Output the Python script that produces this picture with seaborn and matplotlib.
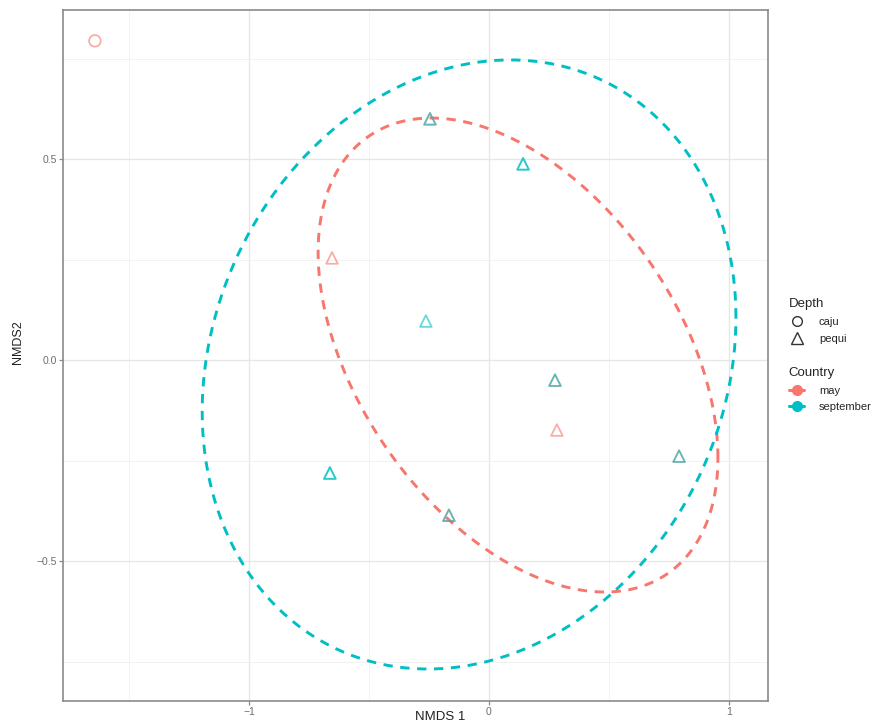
import numpy as np
import pandas as pd
import matplotlib
matplotlib.use("Agg")
import matplotlib.pyplot as plt
from matplotlib.lines import Line2D
import seaborn as sns

sns.set_theme(style="white")
plt.rcParams["font.family"] = ["Liberation Sans", "DejaVu Sans"]

# NMDS site scores
nmds1 = [-1.642, -0.246, -0.246, 0.142, 0.142, -0.263, -0.663, -0.663,
         -0.654, 0.283, 0.275, 0.275, 0.792, 0.792, -0.167, -0.167]
nmds2 = [0.794, 0.600, 0.600, 0.488, 0.488, 0.097, -0.281, -0.281,
         0.254, -0.174, -0.050, -0.050, -0.239, -0.239, -0.386, -0.386]
depth = ["caju"] + ["pequi"] * 15
country = ["may", "may", "september", "september", "september", "september",
           "september", "september", "may", "may", "may", "september",
           "may", "september", "may", "september"]

# 95% ellipse per month: centre and covariance (sxx, syy, sxy)
ell_country = ["may", "september"]
ell_cx = [0.121, -0.083]
ell_cy = [0.0125, -0.011]
ell_sx = [0.833, 1.112]
ell_sy = [0.5895, 0.7575]
ell_sxy = [-0.213, 0.130]

palette = {"may": "#F8766D", "september": "#00BFC4"}

pts = pd.DataFrame({"NMDS1": nmds1, "NMDS2": nmds2,
                    "Depth": depth, "Country": country})

rows = []
t = np.linspace(0, 2 * np.pi, 361)
for c, cx, cy, sx, sy, sxy in zip(ell_country, ell_cx, ell_cy, ell_sx, ell_sy, ell_sxy):
    cov = np.array([[sx ** 2, sxy], [sxy, sy ** 2]])
    L = np.linalg.cholesky(cov)
    xy = L @ np.vstack([np.cos(t), np.sin(t)])
    for k in range(len(t)):
        rows.append({"NMDS1": cx + xy[0, k], "NMDS2": cy + xy[1, k],
                     "Country": c, "order": k})
ell = pd.DataFrame(rows)

fig = plt.figure(figsize=(8.86, 7.27), dpi=100)
ax = fig.add_axes([0.0711, 0.0358, 0.7957, 0.9504])

sns.lineplot(data=ell, x="NMDS1", y="NMDS2", hue="Country", palette=palette,
             sort=False, estimator=None, units="Country", ax=ax,
             linewidth=2.1, linestyle=(0, (3.2, 2.6)), legend=False, zorder=3)

sns.scatterplot(data=pts, x="NMDS1", y="NMDS2", hue="Country", style="Depth",
                palette=palette, markers={"caju": "o", "pequi": "^"},
                s=70, alpha=0.6, ax=ax, legend=False, zorder=4)
for coll in ax.collections:
    fc = coll.get_facecolors()
    coll.set_edgecolors(fc)
    coll.set_facecolors("none")
    coll.set_linewidth(1.3)

ax.set_xlim(-1.775, 1.1625)
ax.set_ylim(-0.848, 0.8706)
ax.set_xticks([-1, 0, 1])
ax.set_xticklabels(["\u22121", "0", "1"])
ax.set_yticks([-0.5, 0.0, 0.5])
ax.set_yticklabels(["\u22120.5", "0.0", "0.5"])
ax.set_xticks([-1.5, -0.5, 0.5], minor=True)
ax.set_yticks([-0.75, -0.25, 0.25, 0.75], minor=True)
ax.grid(which="major", color="#e6e6e6", linewidth=0.9)
ax.grid(which="minor", color="#f0f0f0", linewidth=0.6)
ax.set_axisbelow(True)
for sp in ax.spines.values():
    sp.set_color("#8a8a8a")
    sp.set_linewidth(1.2)
ax.tick_params(axis="both", which="major", length=3, width=0.9,
               color="#8a8a8a", labelcolor="#6e6e6e", labelsize=7.5, pad=1.5,
               bottom=True, left=True)
ax.tick_params(which="minor", length=0)
ax.set_xlabel("NMDS 1", fontsize=9.5, color="#222222")
ax.set_ylabel("NMDS2", fontsize=9, color="#222222")
ax.xaxis.set_label_coords(0.535, -0.015, transform=ax.transAxes)
ax.xaxis.label.set_verticalalignment("top")
ax.yaxis.set_label_coords(-0.055, 0.52, transform=ax.transAxes)

depth_handles = [
    Line2D([], [], linestyle="none", marker="o", markersize=7,
           markerfacecolor="none", markeredgecolor="#333333", markeredgewidth=1.0),
    Line2D([], [], linestyle="none", marker="^", markersize=8,
           markerfacecolor="none", markeredgecolor="#333333", markeredgewidth=1.0),
]
leg1 = fig.legend(depth_handles, ["caju", "pequi"], title="Depth",
                  loc="upper left", bbox_to_anchor=(0.879, 0.604),
                  frameon=False, fontsize=8, title_fontsize=9.5,
                  handlelength=1.4, handletextpad=1.3, labelspacing=0.65,
                  alignment="left")
country_handles = [
    Line2D([], [], color=palette[c], linewidth=2.2, marker="o",
           markersize=7, markerfacecolor=palette[c], markeredgecolor=palette[c])
    for c in ["may", "september"]
]
leg2 = fig.legend(country_handles, ["may", "september"], title="Country",
                  loc="upper left", bbox_to_anchor=(0.879, 0.509),
                  frameon=False, fontsize=8, title_fontsize=9.5,
                  handlelength=1.4, handletextpad=1.3, labelspacing=0.6,
                  alignment="left")

fig.savefig("out.png", dpi=100, facecolor="white")
